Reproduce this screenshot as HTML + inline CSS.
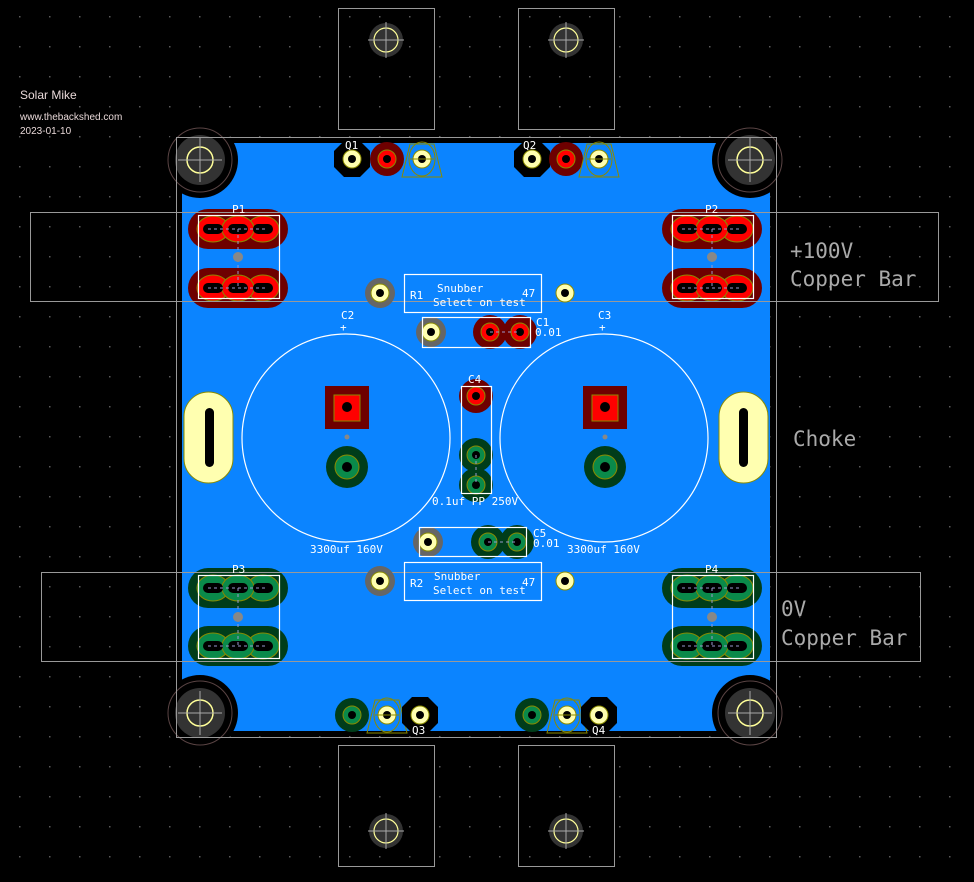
<!DOCTYPE html>
<html><head><meta charset="utf-8"><style>
html,body{margin:0;padding:0;background:#000;}
svg{display:block}
text{font-family:"DejaVu Sans Mono","Liberation Mono",monospace;}
</style></head><body>
<svg width="974" height="882" viewBox="0 0 974 882" xmlns="http://www.w3.org/2000/svg">
<defs>
<pattern id="grid" x="19" y="16" width="30" height="30" patternUnits="userSpaceOnUse">
<rect x="0" y="0" width="1.5" height="1.5" fill="#5a5a5a"/>
</pattern>
<g id="mh">
<circle r="25" fill="#333"/>
<circle r="13" fill="none" stroke="#ffff99" stroke-width="1.5"/>
<line x1="-22" y1="0" x2="22" y2="0" stroke="#aaa" stroke-width="1"/>
<line x1="0" y1="-22" x2="0" y2="22" stroke="#aaa" stroke-width="1"/>
</g>
<g id="hs">
<rect x="0" y="0" width="96" height="121" fill="none" stroke="#999" stroke-width="1"/>
</g>
<g id="hole">
<circle r="17" fill="#333"/>
<circle r="12" fill="none" stroke="#ffff99" stroke-width="1.2"/>
<line x1="-18" y1="0" x2="18" y2="0" stroke="#aaa"/>
<line x1="0" y1="-18" x2="0" y2="18" stroke="#aaa"/>
</g>
<g id="prowR">
<rect x="-50" y="-20" width="100" height="40" rx="20" fill="#6e0000"/>
<ellipse cx="-25" cy="0" rx="16" ry="13" fill="#ff0000" stroke="#8a8a00"/>
<ellipse cx="25" cy="0" rx="16" ry="13" fill="#ff0000" stroke="#8a8a00"/>
<ellipse cx="0" cy="0" rx="16" ry="13" fill="#ff0000" stroke="#8a8a00"/>
<rect x="-35" y="-5" width="20" height="10" rx="5" fill="#000"/>
<rect x="-10" y="-5" width="20" height="10" rx="5" fill="#000"/>
<rect x="15" y="-5" width="20" height="10" rx="5" fill="#000"/>
<line x1="-30" y1="0" x2="30" y2="0" stroke="#9999cc" stroke-dasharray="3,3"/>
</g>
<g id="prowG">
<rect x="-50" y="-20" width="100" height="40" rx="20" fill="#003d1a"/>
<ellipse cx="-25" cy="0" rx="16" ry="13" fill="#0a8a4a" stroke="#8a8a00"/>
<ellipse cx="25" cy="0" rx="16" ry="13" fill="#0a8a4a" stroke="#8a8a00"/>
<ellipse cx="0" cy="0" rx="16" ry="13" fill="#0a8a4a" stroke="#8a8a00"/>
<rect x="-35" y="-5" width="20" height="10" rx="5" fill="#000"/>
<rect x="-10" y="-5" width="20" height="10" rx="5" fill="#000"/>
<rect x="15" y="-5" width="20" height="10" rx="5" fill="#000"/>
<line x1="-30" y1="0" x2="30" y2="0" stroke="#9999cc" stroke-dasharray="3,3"/>
</g>
<g id="yp"><circle r="9" fill="#ffffb0" stroke="#8a8a00"/><circle r="4" fill="#000"/></g>
<g id="rp"><circle r="17" fill="#6e0000"/><circle r="9" fill="#ff0000" stroke="#8a8a00"/><circle r="4" fill="#000"/></g>
<g id="gp"><circle r="17" fill="#003d1a"/><circle r="9" fill="#0a8a4a" stroke="#8a8a00"/><circle r="4" fill="#000"/></g>
<g id="bo"><polygon points="-8,-18 8,-18 18,-8 18,8 8,18 -8,18 -18,8 -18,-8" fill="#000"/><use href="#yp"/></g>
<g id="tri"><polygon points="-12,-15 12,-15 20,18 -20,18" fill="none" stroke="#8a8a00"/><ellipse rx="13" ry="17" fill="none" stroke="#8a8a00"/><use href="#yp"/><line x1="-12" y1="0" x2="12" y2="0" stroke="#8a8a00"/></g>
<g id="gry"><circle r="15" fill="#666"/><use href="#yp"/></g>
</defs>
<rect width="974" height="882" fill="#000"/>
<rect width="974" height="882" fill="url(#grid)"/>

<!-- copper fill -->
<rect x="182" y="143" width="588" height="588" fill="#0b84ff"/>
<!-- black cutouts -->
<circle cx="200" cy="160" r="38" fill="#000"/><circle cx="750" cy="160" r="38" fill="#000"/>
<circle cx="200" cy="713" r="38" fill="#000"/><circle cx="750" cy="713" r="38" fill="#000"/>
<g fill="none" stroke="#5a4444" stroke-width="1">
<circle cx="200" cy="160" r="32"/><circle cx="750" cy="160" r="32"/><circle cx="200" cy="713" r="32"/><circle cx="750" cy="713" r="32"/>
</g>
<use href="#mh" x="200" y="160"/><use href="#mh" x="750" y="160"/><use href="#mh" x="200" y="713"/><use href="#mh" x="750" y="713"/>
<!-- board outline -->
<rect x="176.5" y="137.5" width="600" height="600" fill="none" stroke="#999" stroke-width="1"/>

<!-- heatsinks -->
<use href="#hs" x="338.5" y="8.5"/><use href="#hs" x="518.5" y="8.5"/>
<use href="#hs" x="338.5" y="745.5"/><use href="#hs" x="518.5" y="745.5"/>
<use href="#hole" x="386" y="40"/><use href="#hole" x="566" y="40"/>
<use href="#hole" x="386" y="831"/><use href="#hole" x="566" y="831"/>

<!-- top transistors -->
<use href="#bo" x="352" y="159"/><use href="#rp" x="387" y="159"/><use href="#tri" x="422" y="159"/>
<use href="#bo" x="532" y="159"/><use href="#rp" x="566" y="159"/><use href="#tri" x="599" y="159"/>
<!-- bottom transistors -->
<use href="#gp" x="352" y="715"/><use href="#tri" x="387" y="715"/><use href="#bo" x="420" y="715"/>
<use href="#gp" x="532" y="715"/><use href="#tri" x="567" y="715"/><use href="#bo" x="599" y="715"/>

<!-- P connectors -->
<use href="#prowR" x="238" y="229"/><use href="#prowR" x="238" y="288"/>
<use href="#prowR" x="712" y="229"/><use href="#prowR" x="712" y="288"/>
<use href="#prowG" x="238" y="588"/><use href="#prowG" x="238" y="646"/>
<use href="#prowG" x="712" y="588"/><use href="#prowG" x="712" y="646"/>
<g stroke="#9999cc" stroke-dasharray="3,3"><line x1="238" y1="229" x2="238" y2="288"/><line x1="712" y1="229" x2="712" y2="288"/><line x1="238" y1="588" x2="238" y2="646"/><line x1="712" y1="588" x2="712" y2="646"/></g>
<g fill="#888"><circle cx="238" cy="257" r="5"/><circle cx="712" cy="257" r="5"/><circle cx="238" cy="617" r="5"/><circle cx="712" cy="617" r="5"/></g>
<g fill="none" stroke="#fff" stroke-width="1.2">
<rect x="198.5" y="215.5" width="81" height="83"/><rect x="672.5" y="215.5" width="81" height="83"/>
<rect x="198.5" y="575.5" width="81" height="83"/><rect x="672.5" y="575.5" width="81" height="83"/>
</g>

<!-- copper bars -->
<rect x="30.5" y="212.5" width="908" height="89" fill="none" stroke="#999"/>
<rect x="41.5" y="572.5" width="879" height="89" fill="none" stroke="#999"/>

<!-- chokes -->
<rect x="184" y="392" width="49" height="91" rx="24.5" fill="#ffffb0" stroke="#8a8a00"/>
<rect x="205" y="408" width="9" height="59" rx="4.5" fill="#000"/>
<rect x="719" y="392" width="49" height="91" rx="24.5" fill="#ffffb0" stroke="#8a8a00"/>
<rect x="739" y="408" width="9" height="59" rx="4.5" fill="#000"/>

<!-- big caps -->
<circle cx="346" cy="438" r="104" fill="none" stroke="#fff" stroke-width="1.2"/>
<circle cx="604" cy="438" r="104" fill="none" stroke="#fff" stroke-width="1.2"/>
<rect x="325" y="386" width="44" height="43" fill="#6e0000"/><rect x="334" y="395" width="26" height="26" fill="#ff0000" stroke="#8a8a00"/><circle cx="347" cy="407" r="5" fill="#000"/>
<rect x="583" y="386" width="44" height="43" fill="#6e0000"/><rect x="592" y="395" width="26" height="26" fill="#ff0000" stroke="#8a8a00"/><circle cx="605" cy="407" r="5" fill="#000"/>
<circle cx="347" cy="437" r="2.5" fill="#888"/><circle cx="605" cy="437" r="2.5" fill="#888"/>
<circle cx="347" cy="467" r="21" fill="#003d1a"/><circle cx="347" cy="467" r="12" fill="#0a8a4a" stroke="#8a8a00"/><circle cx="347" cy="467" r="5" fill="#000"/>
<circle cx="605" cy="467" r="21" fill="#003d1a"/><circle cx="605" cy="467" r="12" fill="#0a8a4a" stroke="#8a8a00"/><circle cx="605" cy="467" r="5" fill="#000"/>

<!-- R1/R2 -->
<use href="#gry" x="380" y="293"/><use href="#yp" x="565" y="293"/>
<use href="#gry" x="380" y="581"/><use href="#yp" x="565" y="581"/>
<rect x="404.5" y="274.5" width="137" height="38" fill="none" stroke="#fff" stroke-width="1.2"/>
<rect x="404.5" y="562.5" width="137" height="38" fill="none" stroke="#fff" stroke-width="1.2"/>

<!-- C1 -->
<use href="#gry" x="431" y="332"/><use href="#rp" x="490" y="332"/><use href="#rp" x="520" y="332"/>
<line x1="490" y1="332" x2="520" y2="332" stroke="#9999cc" stroke-dasharray="3,3"/>
<rect x="422.5" y="317.5" width="108" height="30" fill="none" stroke="#fff" stroke-width="1.2"/>
<!-- C5 -->
<use href="#gry" x="428" y="542"/><use href="#gp" x="488" y="542"/><use href="#gp" x="517" y="542"/>
<line x1="488" y1="542" x2="517" y2="542" stroke="#9999cc" stroke-dasharray="3,3"/>
<rect x="419.5" y="527.5" width="107" height="29" fill="none" stroke="#fff" stroke-width="1.2"/>
<!-- C4 -->
<use href="#rp" x="476" y="396"/><use href="#gp" x="476" y="455"/><use href="#gp" x="476" y="485"/>
<line x1="476" y1="455" x2="476" y2="485" stroke="#9999cc" stroke-dasharray="3,3"/>
<rect x="461.5" y="386.5" width="30" height="107" fill="none" stroke="#fff" stroke-width="1.2"/>

<!-- labels -->
<g fill="#fff" font-size="11">
<text x="345" y="149">Q1</text><text x="523" y="149">Q2</text>
<text x="412" y="734">Q3</text><text x="592" y="734">Q4</text>
<text x="232" y="213">P1</text><text x="705" y="213">P2</text>
<text x="232" y="573">P3</text><text x="705" y="573">P4</text>
<text x="341" y="319">C2</text><text x="340" y="331">+</text>
<text x="598" y="319">C3</text><text x="599" y="331">+</text>
<text x="468" y="383">C4</text>
<text x="536" y="326">C1</text><text x="535" y="336">0.01</text>
<text x="533" y="537">C5</text><text x="533" y="547">0.01</text>
<text x="432" y="505">0.1uf PP 250V</text>
<text x="310" y="553">3300uf 160V</text><text x="567" y="553">3300uf 160V</text>
<text x="410" y="299">R1</text><text x="437" y="292">Snubber</text><text x="433" y="306">Select on test</text><text x="522" y="297">47</text>
<text x="410" y="587">R2</text><text x="434" y="580">Snubber</text><text x="433" y="594">Select on test</text><text x="522" y="586">47</text>
</g>
<g fill="#aaa" font-size="21">
<text x="790" y="258">+100V</text><text x="790" y="286">Copper Bar</text>
<text x="793" y="446">Choke</text>
<text x="781" y="616">0V</text><text x="781" y="645">Copper Bar</text>
</g>
<g fill="#e8d8d8" font-family="Liberation Sans,sans-serif">
<text x="20" y="99" font-size="12" style="font-family:'Liberation Sans',sans-serif">Solar Mike</text>
<text x="20" y="120" font-size="10" style="font-family:'Liberation Sans',sans-serif">www.thebackshed.com</text>
<text x="20" y="134" font-size="10" style="font-family:'Liberation Sans',sans-serif">2023-01-10</text>
</g>
</svg>
</body></html>
